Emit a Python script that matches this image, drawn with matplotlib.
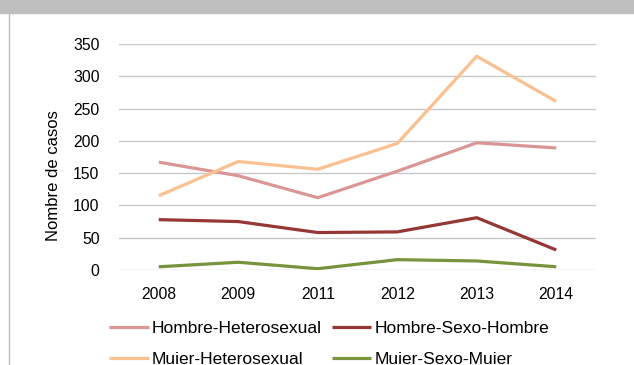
import matplotlib.pyplot as plt
from matplotlib.patches import Rectangle
from matplotlib.lines import Line2D

plt.rcParams['font.family'] = ['Liberation Sans', 'DejaVu Sans']

# datos
anios = ['2008', '2009', '2011', '2012', '2013', '2014']
hombre_het = [167, 146, 112, 153, 197, 189]
hombre_sh = [78, 75, 58, 59, 81, 31]
muier_het = [115, 168, 156, 196, 331, 261]
muier_sm = [5, 12, 2, 16, 14, 5]

series = ['Hombre-Heterosexual', 'Hombre-Sexo-Hombre',
          'Muier-Heterosexual', 'Muier-Sexo-Muier']
colores = ['#d99694', '#953735', '#fac090', '#77933c']
valores = [hombre_het, hombre_sh, muier_het, muier_sm]

fig = plt.figure(figsize=(6.34, 3.65), dpi=100)

# banda gris superior y borde izquierdo
fig.patches.append(Rectangle((0, 1 - 12.5 / 365), 1, 12.5 / 365,
                             transform=fig.transFigure, color='#bfbfbf', zorder=0))
fig.lines.append(Line2D([9 / 634, 9 / 634], [0, 1 - 12.5 / 365],
                        transform=fig.transFigure, color='#bfbfbf', lw=1))

ax = fig.add_axes([119 / 634, 1 - 270 / 365, (596 - 119) / 634, (270 - 44) / 365])

x = range(len(anios))
lineas = []
for nombre, col, v in zip(series, colores, valores):
    l, = ax.plot(x, v, color=col, lw=2.3, label=nombre, solid_capstyle='butt', zorder=3)
    lineas.append(l)

ax.set_xlim(-0.5, len(anios) - 0.5)
ax.set_ylim(0, 350)
ax.set_yticks(range(0, 351, 50))
ax.set_xticks(list(x))
ax.set_xticklabels(anios)
ax.grid(axis='y', color='#c8c8c8', lw=1)
ax.set_axisbelow(True)
for s in ax.spines.values():
    s.set_visible(False)
ax.tick_params(length=0, labelsize=11.3, colors='black')
ax.tick_params(axis='y', pad=14)
ax.tick_params(axis='x', pad=12)
ax.set_ylabel('Nombre de casos', fontsize=12, labelpad=10)
ax.yaxis.set_label_coords(-0.122, 0.42)

# leyenda en dos filas: hombres arriba, mujeres abajo
orden = [0, 2, 1, 3]
ax.legend([lineas[i] for i in orden], [series[i] for i in orden],
          loc='upper left', bbox_to_anchor=(102 / 634, 1 - 314 / 365),
          bbox_transform=fig.transFigure, ncol=2, frameon=False,
          fontsize=12.5, handlelength=2.3, handletextpad=0.18,
          columnspacing=0.55, labelspacing=0.9, borderaxespad=0)

fig.savefig('out.png', dpi=100)
